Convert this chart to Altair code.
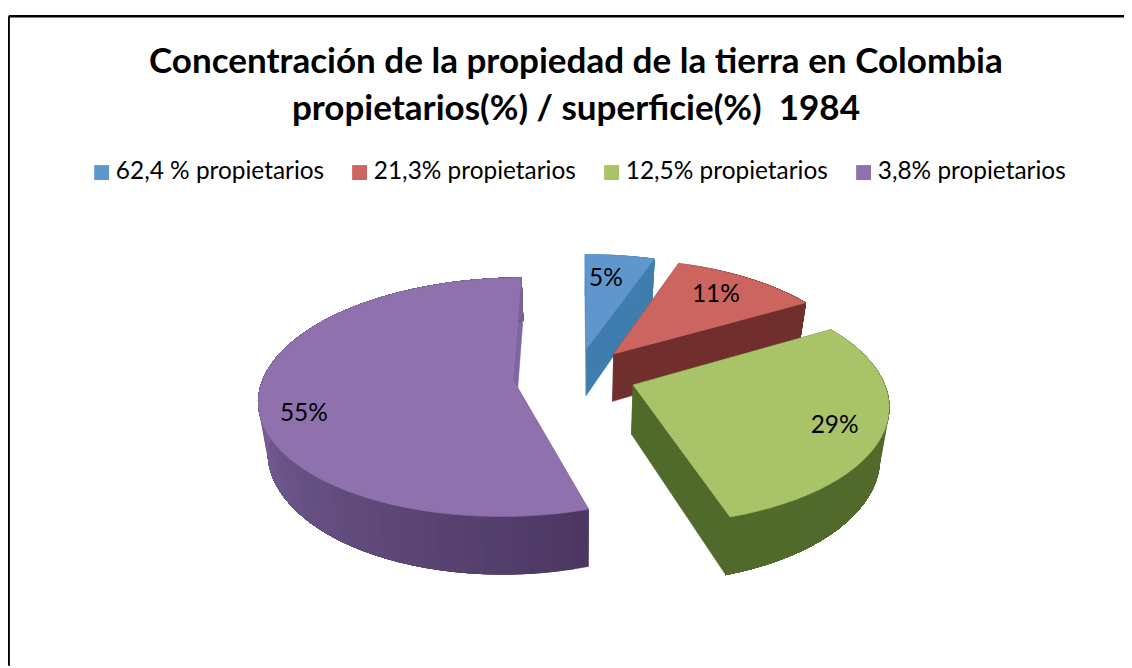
import math
import altair as alt
import pandas as pd

# ---- chart content ----
SERIES = ["62,4 % propietarios", "21,3% propietarios", "12,5% propietarios", "3,8% propietarios"]
SHARES = [5.3, 11.3, 28.6, 54.8]
LABELS = ["5%", "11%", "29%", "55%"]
TOP_COLORS = ["#5f96cd", "#cc6560", "#a8c368", "#8f72ad"]
WALL_NEAR = ["#4a7fae", "#702f2c", "#55692e", "#7a6399"]
WALL_FAR = ["#3f7dae", "#702f2c", "#4f6a2b", "#4c3763"]
CUT_FAR = ["#3f7dae", "#702f2c", "#4f6a2b", "#7d67a0"]
TITLE = ["Concentración de la propiedad de la tierra en Colombia",
         "propietarios(%) / superficie(%)\u00a0 1984"]

# ---- pie view parameters ----
CX, CY = 581.0, 375.0
RX, RY = 250.0, 116.0
PERSP = 0.15
EXPLODE = [0.24, 0.24, 0.24, 0.26]
DROP = 49.0
SHRINK = 0.97
LABEL_T = [7.5, 39.0, 114.0, 250.0]
LABEL_R = [0.72, 0.75, 0.82, 0.84]
FRAME_LEFT, FRAME_TOP = 8.7, 14.0
RIGHT_EDGE, BOTTOM_EDGE = 1132, 668


def project(px, py, lower=False):
    s = 1 / (1 + PERSP * py)
    sx, sy = RX * px * s, -RY * py * s
    if lower:
        return CX + sx * SHRINK, CY + sy + DROP * s
    return CX + sx, CY + sy


def mix(c1, c2, f):
    a = [int(c1[i:i + 2], 16) for i in (1, 3, 5)]
    b = [int(c2[i:i + 2], 16) for i in (1, 3, 5)]
    return "#" + "".join(f"{round(x + (y - x) * f):02x}" for x, y in zip(a, b))


rows = []
pid = 0


def add_poly(points, color):
    global pid
    pid += 1
    for i, (x, y) in enumerate(points + points[:1]):
        rows.append({"poly": pid, "i": i, "x": x, "y": y, "color": color})


starts = []
acc = 0.0
for share in SHARES:
    starts.append(acc)
    acc += share
labels_xy = []
for k, share in enumerate(SHARES):
    t0 = math.radians(starts[k] * 3.6)
    t1 = math.radians((starts[k] + share) * 3.6)
    mid = (t0 + t1) / 2
    ox, oy = EXPLODE[k] * math.sin(mid), EXPLODE[k] * math.cos(mid)
    steps = max(6, int(share * 1.2))
    ts = [t0 + (t1 - t0) * j / steps for j in range(steps + 1)]
    rim = [(ox + math.sin(t), oy + math.cos(t)) for t in ts]

    # cut faces
    for end, col in ((rim[0], WALL_NEAR[k]), (rim[-1], CUT_FAR[k])):
        add_poly([project(ox, oy), project(*end), project(*end, lower=True), project(ox, oy, lower=True)], col)
    # outer wall: each band is painted from its start to the rim's end, so no seams show
    for j in range(steps):
        if k == 3:
            # darkest at the slice's near corner, lightest at its far left
            f = min(1.0, max(0.0, (math.degrees(ts[j]) - 162) / 108))
            col = mix(WALL_FAR[k], WALL_NEAR[k], f)
        else:
            col = mix(WALL_NEAR[k], WALL_FAR[k], j / (steps - 1))
        upper = [project(*p) for p in rim[j:]]
        lower = [project(*p, lower=True) for p in reversed(rim[j:])]
        add_poly(upper + lower, col)
    # top face
    add_poly([project(ox, oy)] + [project(*p) for p in rim], TOP_COLORS[k])

    lt = math.radians(LABEL_T[k])
    lx, ly = project(ox + LABEL_R[k] * math.sin(lt), oy + LABEL_R[k] * math.cos(lt))
    labels_xy.append({"x": lx, "y": ly, "label": LABELS[k]})

polys = pd.DataFrame(rows)
labels = pd.DataFrame(labels_xy)
legend_df = pd.DataFrame({"serie": SERIES, "x": [CX] * 4, "y": [CY] * 4})
frame_h = pd.DataFrame({"x": [FRAME_LEFT], "x2": [RIGHT_EDGE], "y": [FRAME_TOP]})
frame_v = pd.DataFrame({"x": [FRAME_LEFT], "y": [FRAME_TOP], "y2": [BOTTOM_EDGE]})

X = alt.X("x:Q", scale=alt.Scale(domain=[8, 1132], nice=False, zero=False), axis=None)
Y = alt.Y("y:Q", scale=alt.Scale(domain=[668, 8], nice=False, zero=False), axis=None)

top_rule = alt.Chart(frame_h).mark_rule(color="#000000", strokeWidth=2.4).encode(x=X, x2="x2:Q", y=Y)
left_rule = alt.Chart(frame_v).mark_rule(color="#000000", strokeWidth=2.4).encode(x=X, y=Y, y2="y2:Q")

shapes = alt.Chart(polys).mark_line(strokeWidth=0.6, interpolate="linear").encode(
    x=X, y=Y,
    detail="poly:N",
    order="i:Q",
    fill=alt.Fill("color:N", scale=None),
    stroke=alt.Stroke("color:N", scale=None),
)

pct = alt.Chart(labels).mark_text(font="Lato", fontSize=24.6, color="#000000").encode(x=X, y=Y, text="label:N")

legend_layer = alt.Chart(legend_df).mark_square(size=0).encode(
    x=X, y=Y,
    color=alt.Color(
        "serie:N",
        scale=alt.Scale(domain=SERIES, range=TOP_COLORS),
        legend=alt.Legend(
            title=None, orient="none", legendX=82, legendY=151, direction="horizontal", columns=4,
            symbolType="square", symbolSize=225, symbolStrokeWidth=0, symbolOpacity=1,
            labelFont="Lato", labelFontSize=24.6,
            labelColor="#000000", columnPadding=22.8, labelOffset=2, labelLimit=400,
        ),
    ),
)

chart = (
    alt.layer(top_rule, left_rule, shapes, pct, legend_layer)
    .properties(
        width=1124, height=660, padding=0,
        autosize=alt.AutoSizeParams(type="none"),
        title=alt.TitleParams(text=TITLE, font="Lato", fontSize=35.3, fontWeight="bold", color="#000000",
                              anchor="middle", lineHeight=48, dy=122, dx=10, frame="group"),
    )
    .configure_view(stroke=None)
)
chart.save("out.html", embed_options={"renderer": "svg", "actions": False})
